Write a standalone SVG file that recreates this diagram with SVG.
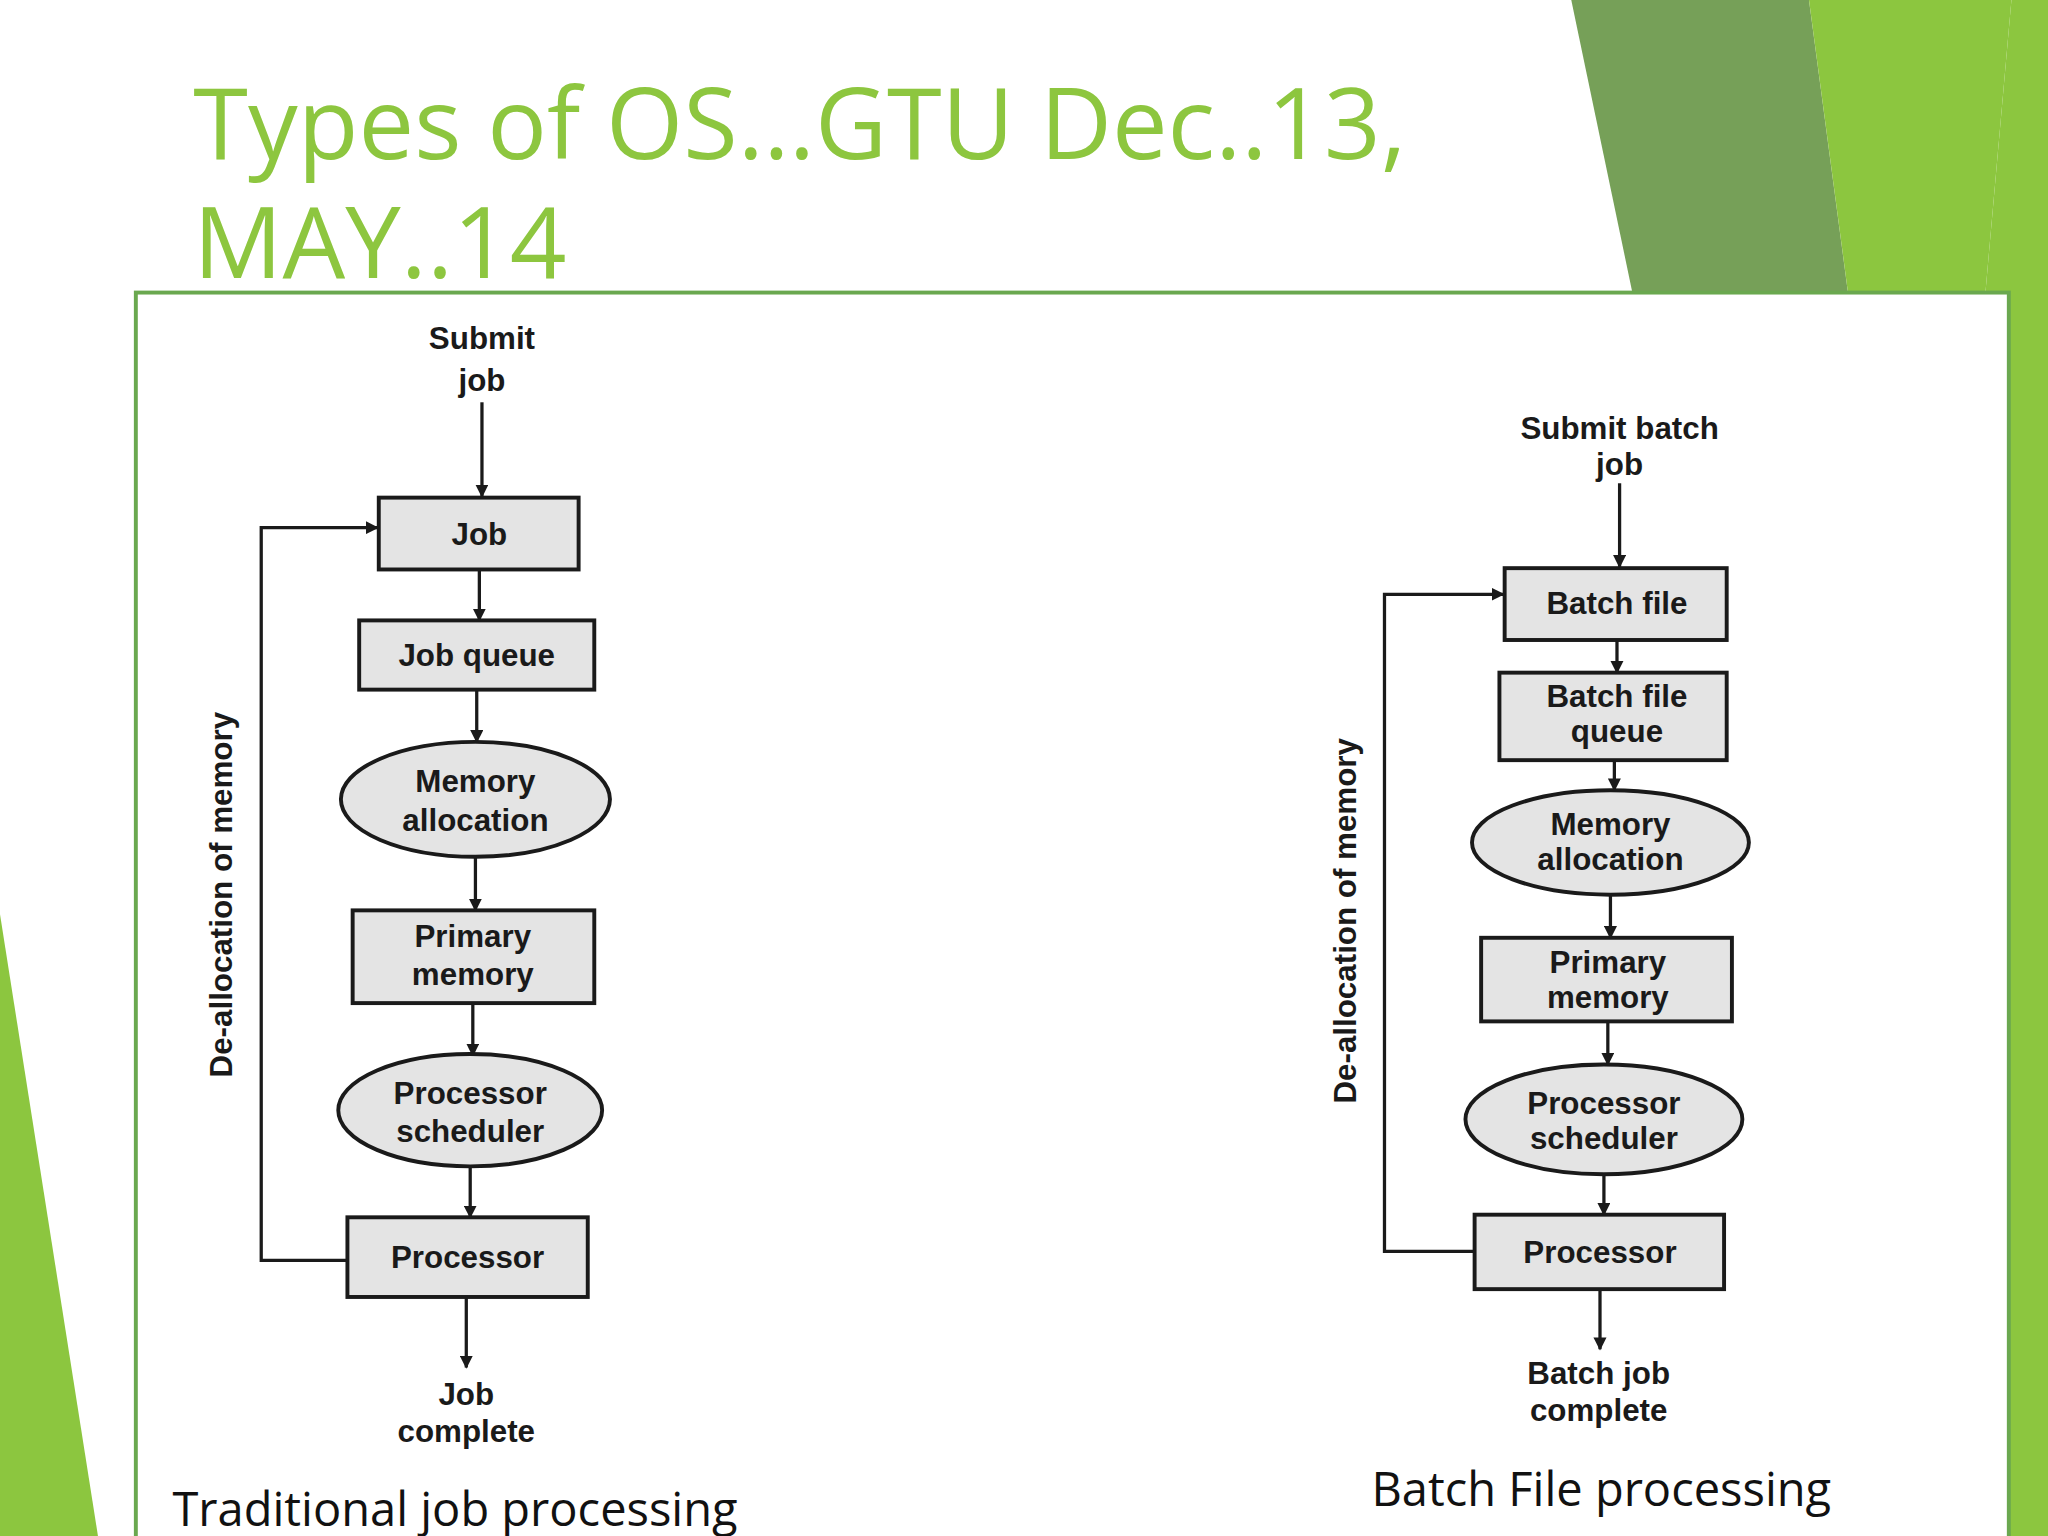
<svg xmlns="http://www.w3.org/2000/svg" width="2048" height="1536" viewBox="0 0 2048 1536">
<style>
.box{fill:#e4e4e4;stroke:#1a1a1a;stroke-width:3}
.lbl{font-family:"Liberation Sans",Arial,sans-serif;font-weight:bold;font-size:24px;fill:#1a1a1a;text-anchor:middle}
.ln{fill:none;stroke:#1a1a1a;stroke-width:2.5}
.cap{font-family:"Open Sans","Liberation Sans",sans-serif;font-size:36px;fill:#111}
</style>
<defs><marker id="a" markerWidth="10" markerHeight="10" refX="9" refY="5" orient="auto" markerUnits="userSpaceOnUse"><path d="M0,0L10,5L0,10z" fill="#1a1a1a"/></marker></defs>
<rect width="2048" height="1536" fill="#fff"/>
<g transform="scale(1.30612)">
<polygon points="1203,0 1385,0 1415,225 1250,225" fill="#76a058"/>
<polygon points="1385,0 1540,0 1520,225 1415,225" fill="#8cc63f"/>
<polygon points="1540,0 1568,0 1568,1176 1538,1176 1538,225 1520,225" fill="#8cc63f"/>
<polygon points="0,700 75,1176 0,1176" fill="#8cc63f"/>
<text x="148" y="122" font-family="Open Sans,Liberation Sans,sans-serif" font-size="76" fill="#8dc63f">Types of OS…GTU Dec..13,</text>
<text x="148" y="213" font-family="Open Sans,Liberation Sans,sans-serif" font-size="76" fill="#8dc63f">MAY..14</text>
<rect x="104" y="224" width="1434" height="960" fill="#fff" stroke="#6aa84f" stroke-width="3"/>
<g id="connectors">
<path class="ln" marker-end="url(#a)" d="M369,308V380"/>
<path class="ln" marker-end="url(#a)" d="M367,436V475"/>
<path class="ln" marker-end="url(#a)" d="M365,528V568"/>
<path class="ln" marker-end="url(#a)" d="M364,656V697"/>
<path class="ln" marker-end="url(#a)" d="M362,768V808"/>
<path class="ln" marker-end="url(#a)" d="M360,893V932"/>
<path class="ln" marker-end="url(#a)" d="M357,993V1047"/>
<path class="ln" marker-end="url(#a)" d="M266,965H200V404H289"/>
<path class="ln" marker-end="url(#a)" d="M1240,370V434"/>
<path class="ln" marker-end="url(#a)" d="M1238,490V515"/>
<path class="ln" marker-end="url(#a)" d="M1236,582V605"/>
<path class="ln" marker-end="url(#a)" d="M1233,685V718"/>
<path class="ln" marker-end="url(#a)" d="M1231,782V815"/>
<path class="ln" marker-end="url(#a)" d="M1228,899V930"/>
<path class="ln" marker-end="url(#a)" d="M1225,987V1033"/>
<path class="ln" marker-end="url(#a)" d="M1129,958H1060V455H1151"/>
</g>
<g id="submit1"><text class="lbl" x="369" y="267">Submit</text><text class="lbl" x="369" y="299">job</text></g>
<g id="job"><rect class="box" x="290" y="381" width="153" height="55"/><text class="lbl" x="367" y="417">Job</text></g>
<g id="jobqueue"><rect class="box" x="275" y="475" width="180" height="53"/><text class="lbl" x="365" y="510">Job queue</text></g>
<g id="mem1"><ellipse class="box" cx="364" cy="612" rx="103" ry="44"/><text class="lbl" x="364" y="606">Memory</text><text class="lbl" x="364" y="636">allocation</text></g>
<g id="prim1"><rect class="box" x="270" y="697" width="185" height="71"/><text class="lbl" x="362" y="725">Primary</text><text class="lbl" x="362" y="754">memory</text></g>
<g id="sched1"><ellipse class="box" cx="360" cy="850" rx="101" ry="43"/><text class="lbl" x="360" y="845">Processor</text><text class="lbl" x="360" y="874">scheduler</text></g>
<g id="proc1"><rect class="box" x="266" y="932" width="184" height="61"/><text class="lbl" x="358" y="971">Processor</text></g>
<g id="complete1"><text class="lbl" x="357" y="1076">Job</text><text class="lbl" x="357" y="1104">complete</text></g>
<text class="lbl" transform="translate(178,685) rotate(-90)">De-allocation of memory</text>
<text class="cap" x="132" y="1168">Traditional job processing</text>
<g id="submit2"><text class="lbl" x="1240" y="336">Submit batch</text><text class="lbl" x="1240" y="364">job</text></g>
<g id="batchfile"><rect class="box" x="1152" y="435" width="170" height="55"/><text class="lbl" x="1238" y="470">Batch file</text></g>
<g id="bfqueue"><rect class="box" x="1148" y="515" width="174" height="67"/><text class="lbl" x="1238" y="541">Batch file</text><text class="lbl" x="1238" y="568">queue</text></g>
<g id="mem2"><ellipse class="box" cx="1233" cy="645" rx="106" ry="40"/><text class="lbl" x="1233" y="639">Memory</text><text class="lbl" x="1233" y="666">allocation</text></g>
<g id="prim2"><rect class="box" x="1134" y="718" width="192" height="64"/><text class="lbl" x="1231" y="745">Primary</text><text class="lbl" x="1231" y="772">memory</text></g>
<g id="sched2"><ellipse class="box" cx="1228" cy="857" rx="106" ry="42"/><text class="lbl" x="1228" y="853">Processor</text><text class="lbl" x="1228" y="880">scheduler</text></g>
<g id="proc2"><rect class="box" x="1129" y="930" width="191" height="57"/><text class="lbl" x="1225" y="967">Processor</text></g>
<g id="complete2"><text class="lbl" x="1224" y="1060">Batch job</text><text class="lbl" x="1224" y="1088">complete</text></g>
<text class="lbl" transform="translate(1038,705) rotate(-90)">De-allocation of memory</text>
<text class="cap" x="1226" y="1153" text-anchor="middle">Batch File processing</text>
</g>
</svg>
